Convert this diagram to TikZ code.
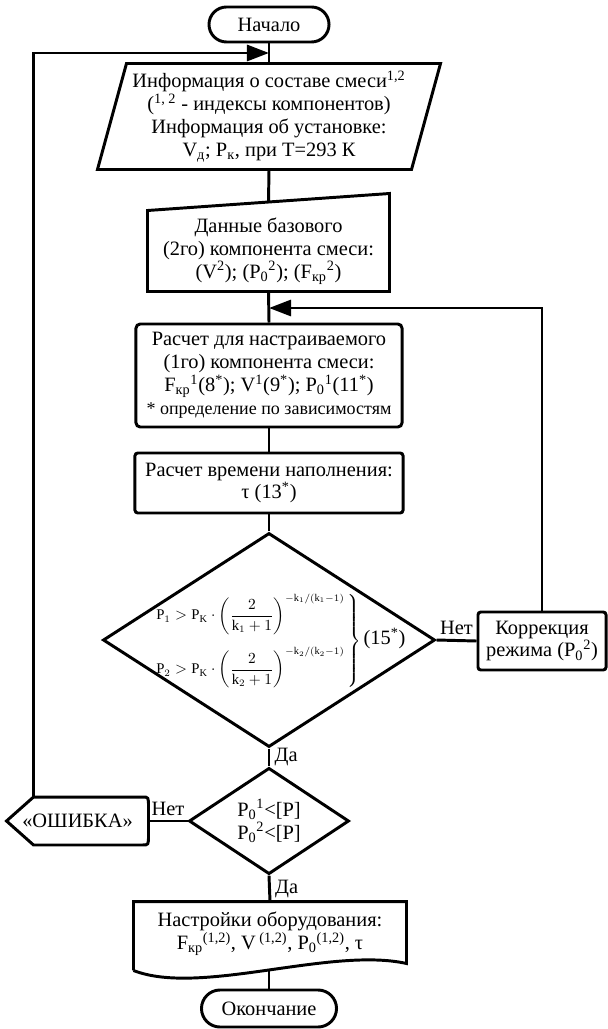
\documentclass[tikz,border=0pt]{standalone}
\usepackage{amsmath}
\usepackage{fontspec}
\setmainfont{Liberation Serif}
\usetikzlibrary{shapes.misc,shapes.geometric,arrows.meta,calc}

\begin{document}
\begin{tikzpicture}[x=0.025cm, y=-0.025cm, line width=2.1pt]
        \tikzstyle{every node}+=[inner sep=0pt, align=center, font=\fontsize{14.5}{16.3}\selectfont]
        \tikzstyle{term}=[rounded rectangle, draw]
        \tikzstyle{txt}=[rectangle]
        \tikzstyle{proc}=[rectangle, draw, rounded corners=3pt]
        \tikzstyle{cond}=[diamond, draw]
        \tikzstyle{lbl}=[inner sep=3pt]
        \tikzstyle{arr}=[-{Triangle[length=5.5mm,width=4mm]}]
        \useasboundingbox (0,0) rectangle (607,1029);
        % blocks
        \node [term, minimum width=3cm, minimum height=0.875cm] (start) at (269,24.5) {Начало};
        \node [txt, minimum width=8.5cm, minimum height=2.575cm] (info) at (269,116.5)
            {Информация о составе смеси\textsuperscript{1,2}\\
             (\textsuperscript{1, 2} - индексы компонентов)\\
             Информация об установке:\\
             V\textsubscript{д}; P\textsubscript{к}, при T=293 К};
        \draw ($(info.north west)+(29,0)$) -- (info.north east) -- ($(info.south east)+(-29,0)$) -- (info.south west) -- cycle;
        \node [txt, minimum width=5.975cm, minimum height=1.95cm] (base) at (268.5,251)
            {Данные базового\\
             (2го) компонента смеси:\\
             (V\textsuperscript{2}); (P\textsubscript{0}\textsuperscript{2}); (F\textsubscript{кр}\textsuperscript{2})};
        \draw (base.north west) -- ($(base.north east)+(0,-17)$) -- (base.south east) -- (base.south west) -- cycle;
        \node [proc, minimum width=6.65cm, minimum height=2.575cm] (calc1) at (269,375.5)
            {Расчет для настраиваемого\\
             (1го) компонента смеси:\\
             F\textsubscript{кр}\textsuperscript{1}(8\textsuperscript{*}); V\textsuperscript{1}(9\textsuperscript{*}); P\textsubscript{0}\textsuperscript{1}(11\textsuperscript{*})\\
             {\fontsize{12.8}{16.3}\selectfont * определение по зависимостям}};
        \node [proc, rounded corners=2pt, minimum width=6.7cm, minimum height=1.5cm] (fill) at (269,483)
            {Расчет времени наполнения:\\ τ (13\textsuperscript{*})};
        \node [cond, minimum width=8.3cm, minimum height=5.35cm] (crit) at (269,640) {};
        \node [font=\fontsize{10.5}{12}\selectfont] (critf) at (280,641)
            {$\arraycolsep=0pt\left.\begin{array}{l}
             \mathrm{P}_1>\mathrm{P}_\mathrm{K}\cdot\left(\dfrac{2}{\mathrm{k}_1+1}\right)^{-\mathrm{k}_1/(\mathrm{k}_1-1)}\\[16pt]
             \mathrm{P}_2>\mathrm{P}_\mathrm{K}\cdot\left(\dfrac{2}{\mathrm{k}_2+1}\right)^{-\mathrm{k}_2/(\mathrm{k}_2-1)}
             \end{array}\hspace{2pt}\right\}$\,{\fontsize{14.5}{16}\selectfont(15\textsuperscript{*})}};
        \node [proc, rounded corners=2pt, minimum width=3.2cm, minimum height=1.45cm] (corr) at (542,641)
            {Коррекция\\ режима (P\textsubscript{0}\textsuperscript{2})};
        \node [cond, minimum width=4cm, minimum height=2.45cm] (lim) at (269,821)
            {P\textsubscript{0}\textsuperscript{1}<[P]\\ P\textsubscript{0}\textsuperscript{2}<[P]};
        \node [txt, minimum width=3.475cm, minimum height=1.125cm] (err) at (77.5,821) {«ОШИБКА»};
        \draw (err.west) -- ($(err.north west)+(27,0)$) -- ($(err.north east)+(-6,0)$)
            .. controls (err.north east) .. ($(err.north east)+(0,10)$) -- ($(err.south east)+(0,-10)$)
            .. controls (err.south east) .. ($(err.south east)+(-6,0)$) -- ($(err.south west)+(27,0)$) -- cycle;
        \node [txt, minimum width=6.75cm, minimum height=1.55cm] (setup) at (270,934)
            {Настройки оборудования:\\
             F\textsubscript{кр}\textsuperscript{(1,2)}, V\,\textsuperscript{(1,2)}, P\textsubscript{0}\textsuperscript{(1,2)}, τ};
        \draw (setup.south west) ++(0,4) -- (setup.north west) -- (setup.north east) -- ($(setup.south east)+(0,-3)$)
            .. controls ($(setup.south)+(60,-20)$) and ($(setup.south)+(-70,30)$) .. ($(setup.south west)+(0,4)$);
        \coordinate (setupb) at ($(setup.south)+(-1,4)$);
        \node [term, minimum width=3.375cm, minimum height=0.925cm] (stop) at (269,1008.5) {Окончание};
        % connectors
        \coordinate (join1) at (269,53);
        \coordinate (join2) at (269,308);
        \draw (start.south) -- (info.north);
        \draw (info.south) -- ($(base.north)+(0,-8.5)$);
        \draw (base.south) -- (calc1.north);
        \draw (calc1.south) -- (fill.north);
        \draw (fill.south) -- (crit.north);
        \draw (crit.east) -- node [lbl, above] (no1) {Нет} (corr.west);
        \draw [arr] (corr.north) |- (join2);
        \draw (crit.south) -- node [lbl, right] (yes1) {Да} (lim.north);
        \draw (lim.west) -- node [lbl, above] (no2) {Нет} (err.east);
        \draw [arr] ($(err.north west)+(27,0)$) |- (join1);
        \draw (lim.south) -- node [lbl, right] (yes2) {Да} (setup.north);
        \draw (setupb) -- (stop.north);
\end{tikzpicture}
\end{document}
